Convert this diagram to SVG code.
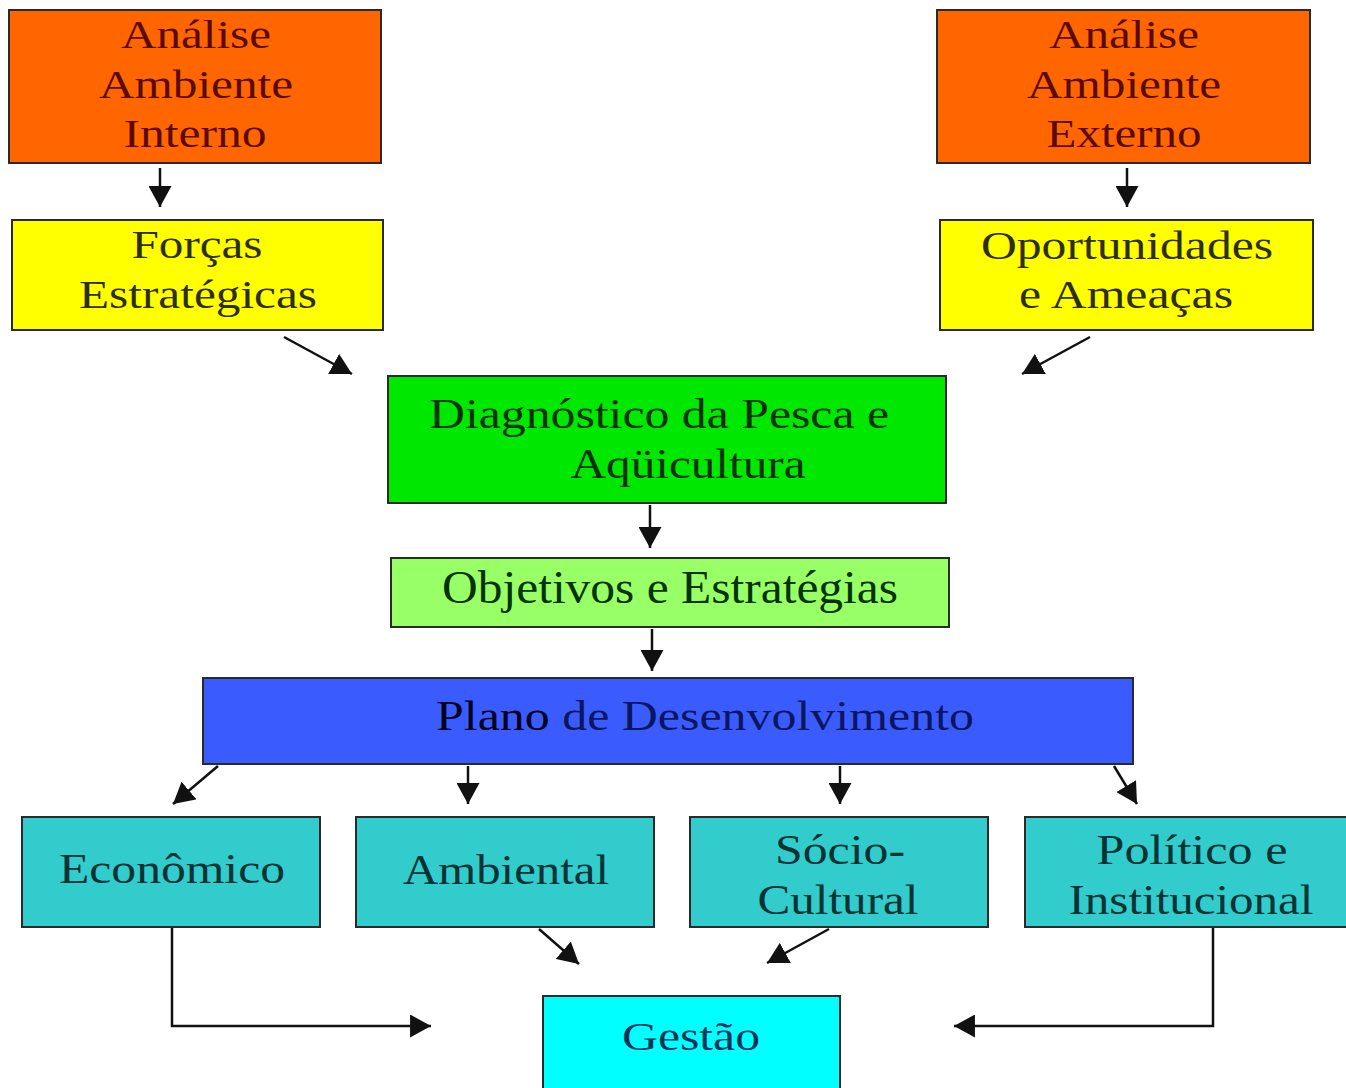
<svg xmlns="http://www.w3.org/2000/svg" width="1346" height="1088" viewBox="0 0 1346 1088">
<style>
  .box { stroke: #2a2a2a; stroke-width: 2; }
  .t { font-family: "Liberation Serif", "Times New Roman", serif; text-anchor: middle; }
  .conn { stroke: #111; stroke-width: 2.5; fill: none; }
  .orange { fill: #FF6600; }
  .yellow { fill: #FFFF00; }
  .green { fill: #00E800; }
  .lgreen { fill: #99FF66; }
  .blue { fill: #3A5CFF; }
  .teal { fill: #33CCCC; }
  .cyan { fill: #00FFFF; }
  .to { fill: #5a0a00; font-size: 40px; }
  .ty { fill: #2e2e00; font-size: 41px; }
  .tg { fill: #003300; font-size: 42px; }
  .tg2 { fill: #003300; font-size: 46px; }
  .tb { fill: #0a1660; font-size: 43px; }
  .tt { fill: #003333; font-size: 43px; }
  .tc { fill: #003355; font-size: 41px; }
</style>
<defs>
  <marker id="ah" viewBox="0 0 20 22" refX="20" refY="11" markerUnits="userSpaceOnUse" markerWidth="21" markerHeight="23" orient="auto">
    <path d="M0,0 L20,11 L0,22 z" fill="#111"/>
  </marker>
</defs>
<rect width="1346" height="1088" fill="#ffffff"/>

<g id="analise-interno">
  <rect class="box orange" x="9" y="10" width="372" height="153"/>
  <text class="t to" x="196" y="48" textLength="150" lengthAdjust="spacingAndGlyphs">Análise</text>
  <text class="t to" x="196" y="98" textLength="194" lengthAdjust="spacingAndGlyphs">Ambiente</text>
  <text class="t to" x="195" y="147" textLength="143" lengthAdjust="spacingAndGlyphs">Interno</text>
</g>
<g id="analise-externo">
  <rect class="box orange" x="937" y="10" width="373" height="153"/>
  <text class="t to" x="1124" y="48" textLength="150" lengthAdjust="spacingAndGlyphs">Análise</text>
  <text class="t to" x="1124" y="98" textLength="194" lengthAdjust="spacingAndGlyphs">Ambiente</text>
  <text class="t to" x="1124" y="147" textLength="155" lengthAdjust="spacingAndGlyphs">Externo</text>
</g>
<g id="forcas">
  <rect class="box yellow" x="12" y="220" width="371" height="110"/>
  <text class="t ty" x="197" y="258" textLength="131" lengthAdjust="spacingAndGlyphs">Forças</text>
  <text class="t ty" x="198" y="308" textLength="238" lengthAdjust="spacingAndGlyphs">Estratégicas</text>
</g>
<g id="oportunidades">
  <rect class="box yellow" x="940" y="220" width="373" height="110"/>
  <text class="t ty" x="1127" y="259" textLength="292" lengthAdjust="spacingAndGlyphs">Oportunidades</text>
  <text class="t ty" x="1126" y="308" textLength="214" lengthAdjust="spacingAndGlyphs">e Ameaças</text>
</g>
<g id="diagnostico">
  <rect class="box green" x="388" y="376" width="558" height="127"/>
  <text class="t tg" x="659" y="428" textLength="460" lengthAdjust="spacingAndGlyphs">Diagnóstico da Pesca e</text>
  <text class="t tg" x="688" y="478" textLength="235" lengthAdjust="spacingAndGlyphs">Aqüicultura</text>
</g>
<g id="objetivos">
  <rect class="box lgreen" x="391" y="558" width="558" height="69"/>
  <text class="t tg2" x="670" y="603" textLength="456" lengthAdjust="spacingAndGlyphs">Objetivos e Estratégias</text>
</g>
<g id="plano">
  <rect class="box blue" x="203" y="678" width="930" height="86"/>
  <text class="t tb" x="705" y="730" textLength="538" lengthAdjust="spacingAndGlyphs"><tspan fill="#00001a">Plano</tspan> de Desenvolvimento</text>
</g>
<g id="economico">
  <rect class="box teal" x="22" y="817" width="298" height="110"/>
  <text class="t tt" x="172" y="883" textLength="226" lengthAdjust="spacingAndGlyphs">Econômico</text>
</g>
<g id="ambiental">
  <rect class="box teal" x="356" y="817" width="298" height="110"/>
  <text class="t tt" x="506" y="884" textLength="206" lengthAdjust="spacingAndGlyphs">Ambiental</text>
</g>
<g id="socio-cultural">
  <rect class="box teal" x="690" y="817" width="298" height="110"/>
  <text class="t tt" x="840" y="864" textLength="130" lengthAdjust="spacingAndGlyphs">Sócio-</text>
  <text class="t tt" x="838" y="914" textLength="161" lengthAdjust="spacingAndGlyphs">Cultural</text>
</g>
<g id="politico">
  <rect class="box teal" x="1025" y="817" width="330" height="110"/>
  <text class="t tt" x="1192" y="864" textLength="191" lengthAdjust="spacingAndGlyphs">Político e</text>
  <text class="t tt" x="1191" y="914" textLength="245" lengthAdjust="spacingAndGlyphs">Institucional</text>
</g>
<g id="gestao">
  <rect class="box cyan" x="543" y="996" width="297" height="100"/>
  <text class="t tc" x="691" y="1050" textLength="138" lengthAdjust="spacingAndGlyphs">Gestão</text>
</g>

<g id="connectors">
  <line class="conn" x1="160" y1="168" x2="160" y2="207" marker-end="url(#ah)"/>
  <line class="conn" x1="1127" y1="168" x2="1127" y2="207" marker-end="url(#ah)"/>
  <line class="conn" x1="284" y1="337" x2="352" y2="374" marker-end="url(#ah)"/>
  <line class="conn" x1="1090" y1="337" x2="1022" y2="374" marker-end="url(#ah)"/>
  <line class="conn" x1="650" y1="505" x2="650" y2="548" marker-end="url(#ah)"/>
  <line class="conn" x1="652" y1="629" x2="652" y2="671" marker-end="url(#ah)"/>
  <line class="conn" x1="218" y1="766" x2="173" y2="804" marker-end="url(#ah)"/>
  <line class="conn" x1="468" y1="766" x2="468" y2="804" marker-end="url(#ah)"/>
  <line class="conn" x1="840" y1="766" x2="840" y2="804" marker-end="url(#ah)"/>
  <line class="conn" x1="1114" y1="766" x2="1137" y2="804" marker-end="url(#ah)"/>
  <line class="conn" x1="539" y1="929" x2="579" y2="964" marker-end="url(#ah)"/>
  <line class="conn" x1="829" y1="929" x2="767" y2="963" marker-end="url(#ah)"/>
  <polyline class="conn" points="172,928 172,1026 431,1026" marker-end="url(#ah)"/>
  <polyline class="conn" points="1213,928 1213,1026 954,1026" marker-end="url(#ah)"/>
</g>
</svg>
